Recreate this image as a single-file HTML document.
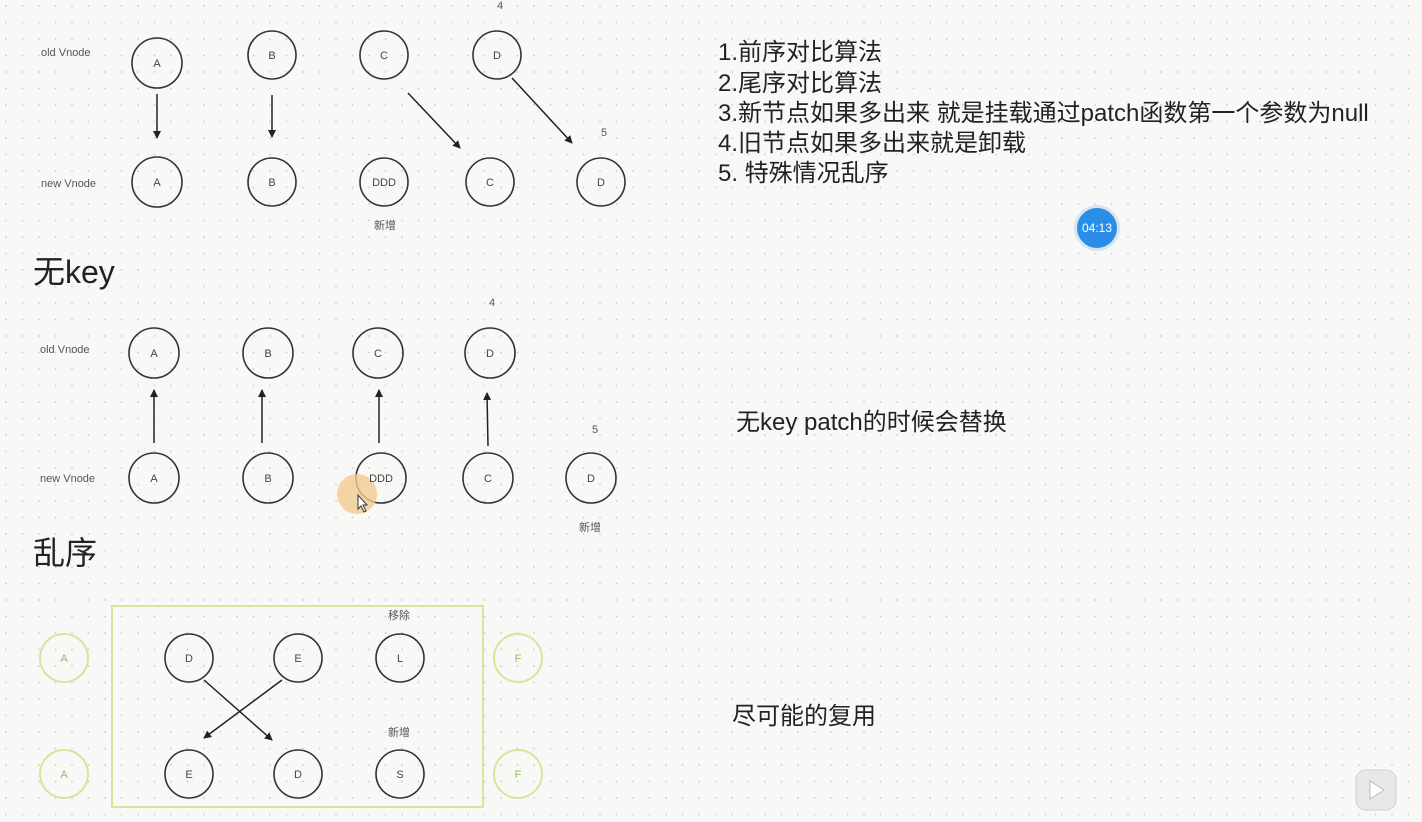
<!DOCTYPE html>
<html><head><meta charset="utf-8"><style>
html,body{margin:0;padding:0;width:1422px;height:822px;overflow:hidden;background:#f8f9f7;}
svg{display:block}
text{font-family:"Liberation Sans","Noto Sans CJK SC",sans-serif;}
</style></head><body>
<svg width="1422" height="822" viewBox="0 0 1422 822" xmlns="http://www.w3.org/2000/svg">
<defs>
<pattern id="dots" width="16.5" height="16.5" patternUnits="userSpaceOnUse"><circle cx="6" cy="6" r="0.9" fill="#c9cbc9"/></pattern>
<marker id="ah" markerWidth="8" markerHeight="8" refX="7" refY="4" orient="auto" markerUnits="userSpaceOnUse"><path d="M0,0 L8,4 L0,8 z" fill="#222"/></marker>
</defs>
<rect width="1422" height="822" fill="#f8f9f7"/>
<rect width="1422" height="822" fill="url(#dots)"/>
<g font-size="11" fill="#555">
<text x="41" y="56">old Vnode</text>
<text x="41" y="187">new Vnode</text>
<text x="40" y="353">old Vnode</text>
<text x="40" y="482">new Vnode</text>
<text x="497" y="9">4</text>
<text x="601" y="136">5</text>
<text x="489" y="306">4</text>
<text x="592" y="433">5</text>
<text x="374" y="229">新增</text>
<text x="579" y="531">新增</text>
<text x="388" y="619">移除</text>
<text x="388" y="736">新增</text>
</g>
<g fill="none" stroke="#333" stroke-width="1.6">
<circle cx="157" cy="63" r="25"/><circle cx="272" cy="55" r="24"/><circle cx="384" cy="55" r="24"/><circle cx="497" cy="55" r="24"/>
<circle cx="157" cy="182" r="25"/><circle cx="272" cy="182" r="24"/><circle cx="384" cy="182" r="24"/><circle cx="490" cy="182" r="24"/><circle cx="601" cy="182" r="24"/>
<circle cx="154" cy="353" r="25"/><circle cx="268" cy="353" r="25"/><circle cx="378" cy="353" r="25"/><circle cx="490" cy="353" r="25"/>
<circle cx="154" cy="478" r="25"/><circle cx="268" cy="478" r="25"/><circle cx="381" cy="478" r="25"/><circle cx="488" cy="478" r="25"/><circle cx="591" cy="478" r="25"/>
<circle cx="189" cy="658" r="24"/><circle cx="298" cy="658" r="24"/><circle cx="400" cy="658" r="24"/>
<circle cx="189" cy="774" r="24"/><circle cx="298" cy="774" r="24"/><circle cx="400" cy="774" r="24"/>
</g>
<g stroke="#222" stroke-width="1.5" marker-end="url(#ah)">
<line x1="157" y1="94" x2="157" y2="138"/>
<line x1="272" y1="95" x2="272" y2="137"/>
<line x1="408" y1="93" x2="460" y2="148"/>
<line x1="512" y1="78" x2="572" y2="143"/>
<line x1="154" y1="443" x2="154" y2="390"/>
<line x1="262" y1="443" x2="262" y2="390"/>
<line x1="379" y1="443" x2="379" y2="390"/>
<line x1="488" y1="446" x2="487" y2="393"/>
<line x1="204" y1="680" x2="272" y2="740"/>
<line x1="282" y1="680" x2="204" y2="738"/>
</g>
<circle cx="357" cy="494" r="20" fill="#f2c98f" opacity="0.8"/>
<path d="M358,495 l0,14 l3,-3 l3,6 l2,-1 l-3,-6 l4,0 z" fill="#fff" stroke="#333" stroke-width="1"/>
<rect x="112" y="606" width="371" height="201" fill="none" stroke="#d6e69c" stroke-width="2"/>
<g fill="none" stroke="#d4e69a" stroke-width="2">
<circle cx="64" cy="658" r="24"/><circle cx="64" cy="774" r="24"/><circle cx="518" cy="658" r="24"/><circle cx="518" cy="774" r="24"/>
</g>
<g font-size="11" fill="#444" text-anchor="middle">
<text x="157" y="67">A</text><text x="272" y="59">B</text><text x="384" y="59">C</text><text x="497" y="59">D</text>
<text x="157" y="186">A</text><text x="272" y="186">B</text><text x="384" y="186">DDD</text><text x="490" y="186">C</text><text x="601" y="186">D</text>
<text x="154" y="357">A</text><text x="268" y="357">B</text><text x="378" y="357">C</text><text x="490" y="357">D</text>
<text x="154" y="482">A</text><text x="268" y="482">B</text><text x="381" y="482">DDD</text><text x="488" y="482">C</text><text x="591" y="482">D</text>
<text x="189" y="662">D</text><text x="298" y="662">E</text><text x="400" y="662">L</text>
<text x="189" y="778">E</text><text x="298" y="778">D</text><text x="400" y="778">S</text>
</g>
<g font-size="11" fill="#8cc05a" text-anchor="middle">
<text x="64" y="662">A</text><text x="64" y="778">A</text><text x="518" y="662">F</text><text x="518" y="778">F</text>
</g>
<g font-size="32" fill="#222">
<text x="33" y="283">无key</text>
<text x="33" y="564">乱序</text>
</g>
<g font-size="24" fill="#222">
<text x="718" y="60">1.前序对比算法</text>
<text x="718" y="91">2.尾序对比算法</text>
<text x="718" y="121">3.新节点如果多出来 就是挂载通过patch函数第一个参数为null</text>
<text x="718" y="151">4.旧节点如果多出来就是卸载</text>
<text x="718" y="181">5. 特殊情况乱序</text>
<text x="736" y="430">无key patch的时候会替换</text>
<text x="732" y="724">尽可能的复用</text>
</g>
<circle cx="1097" cy="228" r="23" fill="#d8e4ef"/>
<circle cx="1097" cy="228" r="20" fill="#2a8ee6"/>
<text x="1097" y="232" font-size="12" fill="#fff" text-anchor="middle">04:13</text>
<rect x="1356" y="770" width="40" height="40" rx="10" fill="#e8e8e8" stroke="#d0d0d0"/>
<path d="M1370,781 l0,18 l14,-9 z" fill="#fff" stroke="#bbb"/>
</svg>
</body></html>
